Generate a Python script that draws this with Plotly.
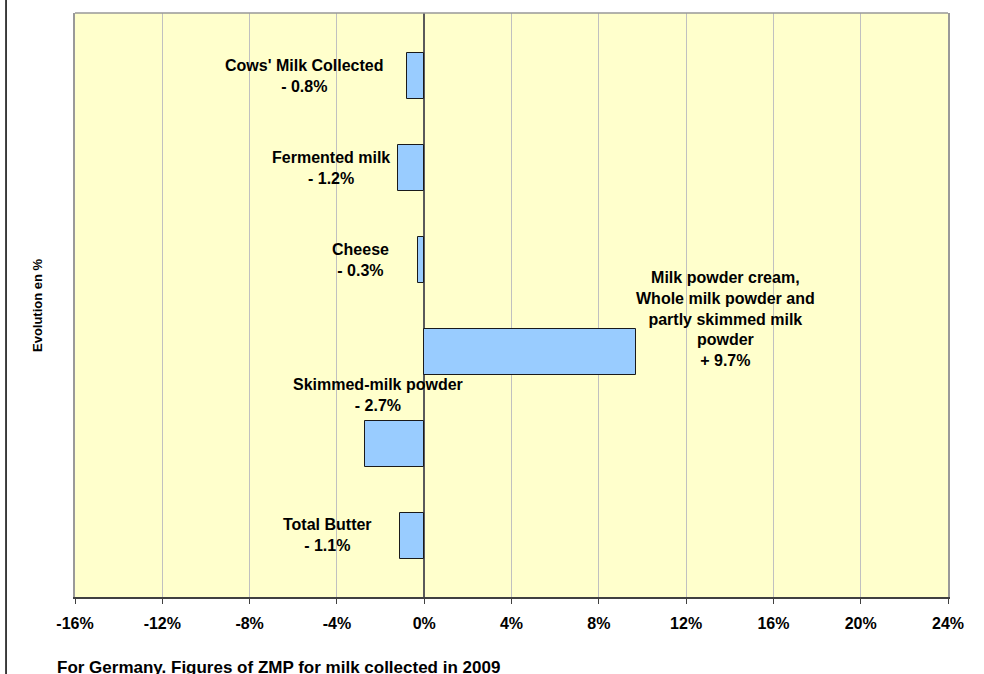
import plotly.graph_objects as go

categories = ["Cows' Milk Collected", "Fermented milk", "Cheese",
              "Milk powder cream, Whole milk powder and partly skimmed milk powder",
              "Skimmed-milk powder", "Total Butter"]
values = [-0.8, -1.2, -0.3, 9.7, -2.7, -1.1]
label_texts = ["Cows' Milk Collected<br>- 0.8%", "Fermented milk<br>- 1.2%", "Cheese<br>- 0.3%",
               "Milk powder cream,<br>Whole milk powder and<br>partly skimmed milk<br>powder<br>+ 9.7%",
               "Skimmed-milk powder<br>- 2.7%", "Total Butter<br>- 1.1%"]
label_x = [-5.5, -4.26, -2.9, 13.8, -2.1, -4.44]
label_y = [0, 1, 2, 2.64, 3.47, 4.99]
tick_vals = [-16, -12, -8, -4, 0, 4, 8, 12, 16, 20, 24]
tick_text = ["-16%", "-12%", "-8%", "-4%", "0%", "4%", "8%", "12%", "16%", "20%", "24%"]

FONT = "Liberation Sans, Arial, sans-serif"

fig = go.Figure()
fig.add_trace(go.Bar(
    x=values, y=list(range(len(categories))), orientation="h", width=0.5,
    marker=dict(color="#99CCFF", line=dict(color="#1a1a1a", width=1)),
    hovertext=categories, showlegend=False))

for t, lx, ly in zip(label_texts, label_x, label_y):
    fig.add_annotation(x=lx, y=ly, xref="x", yref="y", text=t, showarrow=False,
                       font=dict(family=FONT, size=16, color="black", weight="bold"),
                       align="center", xanchor="center", yanchor="middle")

fig.add_annotation(x=-0.0435, y=0.5, xref="paper", yref="paper", text="Evolution en %",
                   textangle=-90, showarrow=False, xanchor="center", yanchor="middle",
                   font=dict(family=FONT, size=13, color="black", weight="bold"))
fig.add_annotation(x=-0.0229, y=-0.101, xref="paper", yref="paper",
                   text="For Germany. Figures of ZMP for milk collected in 2009",
                   showarrow=False, xanchor="left", yanchor="top",
                   font=dict(family=FONT, size=17, color="black", weight="bold"))

# outer chart frame left edge and plot top border
fig.add_shape(type="line", xref="paper", yref="paper", x0=-0.079, x1=-0.079, y0=-0.2, y1=1.1,
              line=dict(color="black", width=1.5))
fig.add_shape(type="line", xref="paper", yref="paper", x0=0, x1=1, y0=1, y1=1,
              line=dict(color="#999999", width=1.5))

fig.update_layout(
    width=984, height=674,
    margin=dict(l=75, r=36, t=13, b=77),
    paper_bgcolor="white", plot_bgcolor="#FFFFCC",
    bargap=0,
    xaxis=dict(range=[-16, 24], tickvals=tick_vals, ticktext=tick_text,
               showgrid=True, gridcolor="#C0C0C0", gridwidth=1,
               zeroline=True, zerolinecolor="#5a5a5a", zerolinewidth=1.5,
               showline=True, linecolor="#404040", linewidth=1.5,
               ticks="outside", ticklen=5, tickcolor="#404040", ticklabelstandoff=6,
               tickfont=dict(family=FONT, size=16, color="black", weight="bold"),
               fixedrange=True),
    yaxis=dict(range=[5.663, -0.685], showticklabels=False, showgrid=False, zeroline=False,
               showline=True, linecolor="#999999", linewidth=1.5, mirror=True, ticks=""),
)

fig.write_html("out.html", config={"displayModeBar": False},
               post_script="document.body.style.margin='0';document.body.style.overflow='hidden';")
